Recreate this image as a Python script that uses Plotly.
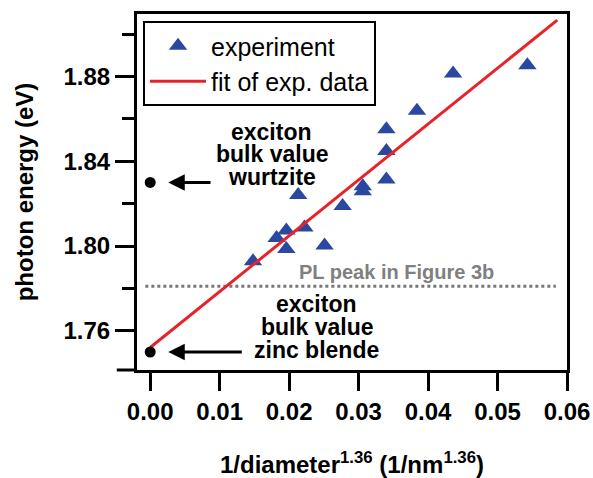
import plotly.graph_objects as go

# experiment data
exp_x = [0.0148, 0.0182, 0.0196, 0.0196, 0.0213, 0.0222, 0.0251, 0.0277,
         0.0306, 0.0306, 0.0340, 0.0340, 0.0340, 0.0384, 0.0436, 0.0543]
exp_y = [1.7928, 1.8038, 1.8073, 1.7986, 1.8241, 1.8088, 1.8002, 1.8189,
         1.8282, 1.8259, 1.8314, 1.8449, 1.8551, 1.8638, 1.8814, 1.8853]

# fit line endpoints
fit_x = [0.0, 0.0586]
fit_y = [1.7521, 1.9066]

# bulk values
bulk_x = [0.0, 0.0]
bulk_y = [1.830, 1.750]

# PL peak level
pl_y = 1.781
pl_x = [-0.0007, 0.0584]

# tick labels
x_ticks = [0, 0.01, 0.02, 0.03, 0.04, 0.05, 0.06]
x_labels = ["0.00", "0.01", "0.02", "0.03", "0.04", "0.05", "0.06"]
y_ticks = [1.76, 1.80, 1.84, 1.88]
y_labels = ["1.76", "1.80", "1.84", "1.88"]

FONT = "Liberation Sans, Arial, sans-serif"

fig = go.Figure()
fig.add_trace(go.Scatter(x=pl_x, y=[pl_y, pl_y], mode="lines",
                         line=dict(color="#777777", width=3, dash="dot"),
                         showlegend=False, hoverinfo="skip"))
fig.add_trace(go.Scatter(x=exp_x, y=exp_y, mode="markers", name="experiment",
                         marker=dict(symbol="triangle-up", size=16, color="#2B48A0",
                                     line=dict(width=0))))
fig.add_trace(go.Scatter(x=fit_x, y=fit_y, mode="lines", name="fit of exp. data",
                         line=dict(color="#E82229", width=3)))
fig.add_trace(go.Scatter(x=bulk_x, y=bulk_y, mode="markers",
                         marker=dict(symbol="circle", size=11, color="black"),
                         showlegend=False))

# arrows
for ty, tail in [(1.830, 0.0089), (1.750, 0.0134)]:
    fig.add_annotation(x=0.0026, y=ty, ax=tail, ay=ty, xref="x", yref="y",
                       axref="x", ayref="y", text="", showarrow=True,
                       arrowhead=2, arrowsize=1.1, arrowwidth=3, arrowcolor="black")

# multi-line labels, one annotation per line for tight spacing
wurtz_lines = ["exciton", "bulk value", "wurtzite"]
wurtz_y = [1.8536, 1.8432, 1.8328]
zinc_lines = ["exciton", "bulk value", "zinc blende"]
zinc_y = [1.7728, 1.7619, 1.7511]
for t, yy in zip(wurtz_lines, wurtz_y):
    fig.add_annotation(x=0.0175, y=yy, xref="x", yref="y", showarrow=False,
                       text="<b>%s</b>" % t,
                       font=dict(family=FONT, size=23, color="black"))
for t, yy in zip(zinc_lines, zinc_y):
    fig.add_annotation(x=0.0240, y=yy, xref="x", yref="y", showarrow=False,
                       text="<b>%s</b>" % t,
                       font=dict(family=FONT, size=23, color="black"))
fig.add_annotation(x=0.0354, y=1.7877, xref="x", yref="y", showarrow=False,
                   text="<b>PL peak in Figure 3b</b>",
                   font=dict(family=FONT, size=20, color="#808080"))

# extension of the bottom axis line to the left
fig.add_shape(type="line", xref="paper", yref="paper", x0=-0.047, x1=0, y0=0, y1=0,
              line=dict(color="black", width=3))

fig.update_layout(
    width=593, height=478,
    margin=dict(l=137, r=26, t=14, b=108),
    paper_bgcolor="white", plot_bgcolor="white",
    font=dict(family=FONT, color="black"),
    legend=dict(x=0.014, y=0.98, xanchor="left", yanchor="top",
                bordercolor="black", borderwidth=2, bgcolor="white",
                font=dict(family=FONT, size=25), itemwidth=56,
                tracegroupgap=0),
    xaxis=dict(range=[-0.0019, 0.0600], tickvals=x_ticks,
               ticktext=["<b>%s</b>" % s for s in x_labels],
               ticks="outside", ticklen=18, tickwidth=3, tickcolor="black",
               showline=True, linewidth=3, linecolor="black", mirror=True,
               showgrid=False, zeroline=False, automargin=False,
               tickfont=dict(family=FONT, size=24),
               title=dict(text="<b>1/diameter<sup>1.36</sup> (1/nm<sup>1.36</sup>)</b>",
                          font=dict(family=FONT, size=24), standoff=33)),
    yaxis=dict(range=[1.7415, 1.9095], tickvals=y_ticks,
               ticktext=["<b>%s</b>" % s for s in y_labels],
               ticks="outside", ticklen=19, tickwidth=3, tickcolor="black",
               minor=dict(tickvals=[1.78, 1.82, 1.86, 1.90], ticks="outside",
                          ticklen=12, tickwidth=3, tickcolor="black"),
               showline=True, linewidth=3, linecolor="black", mirror=True,
               showgrid=False, zeroline=False, automargin=False,
               tickfont=dict(family=FONT, size=24),
               title=dict(text="<b>photon energy (eV)</b>",
                          font=dict(family=FONT, size=24), standoff=24)),
)

fig.write_html("out.html")
